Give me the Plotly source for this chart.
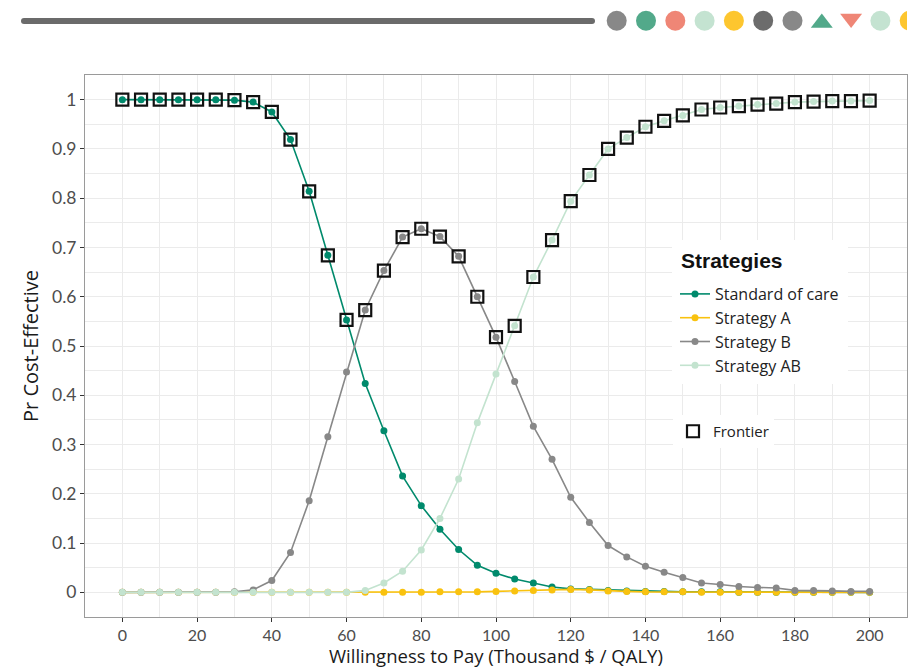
import numpy as np
import plotly.graph_objects as go

# Willingness-to-pay thresholds (thousand $ per QALY)
wtp = list(range(0, 201, 5))

# Probability each strategy is cost-effective at each threshold
soc = [1.000, 1.000, 1.000, 1.000, 1.000, 1.000, 0.999, 0.995, 0.975, 0.919,
       0.814, 0.684, 0.553, 0.424, 0.328, 0.236, 0.176, 0.128, 0.087, 0.055,
       0.039, 0.027, 0.019, 0.011, 0.007, 0.006, 0.004, 0.003, 0.002, 0.002,
       0.001, 0.001, 0.001, 0.000, 0.000, 0.000, 0.000, 0.000, 0.000, 0.000,
       0.000]
strat_a = [0.000, 0.000, 0.000, 0.000, 0.000, 0.000, 0.000, 0.000, 0.000, 0.000,
           0.000, 0.000, 0.000, 0.000, 0.000, 0.000, 0.000, 0.001, 0.001, 0.001,
           0.002, 0.003, 0.004, 0.005, 0.006, 0.005, 0.003, 0.002, 0.001, 0.001,
           0.001, 0.000, 0.000, 0.000, 0.000, 0.000, 0.000, 0.000, 0.000, 0.000,
           0.000]
strat_b = [0.000, 0.000, 0.000, 0.000, 0.000, 0.000, 0.001, 0.005, 0.024, 0.081,
           0.186, 0.316, 0.447, 0.573, 0.653, 0.721, 0.738, 0.722, 0.682, 0.600,
           0.518, 0.428, 0.337, 0.270, 0.193, 0.142, 0.095, 0.072, 0.053, 0.041,
           0.030, 0.019, 0.016, 0.012, 0.010, 0.009, 0.004, 0.004, 0.003, 0.002,
           0.002]
strat_ab = [0.000, 0.000, 0.000, 0.000, 0.000, 0.000, 0.000, 0.000, 0.000, 0.000,
            0.000, 0.000, 0.000, 0.004, 0.019, 0.043, 0.086, 0.150, 0.230, 0.344,
            0.443, 0.541, 0.640, 0.715, 0.794, 0.847, 0.900, 0.923, 0.945, 0.957,
            0.968, 0.980, 0.984, 0.987, 0.990, 0.992, 0.995, 0.996, 0.997, 0.997,
            0.998]

strategy_names = ["Standard of care", "Strategy A", "Strategy B", "Strategy AB"]
strategy_colors = ["#008a6c", "#f9c20f", "#888888", "#c3e3cf"]
series = [soc, strat_a, strat_b, strat_ab]

# Frontier: the strategy with highest probability at each threshold
stack = np.array(series)
frontier = stack.max(axis=0)

# Header decoration palette
deco_colors = ["#888888", "#52a98a", "#ef8676", "#c4e3d1", "#fdc62f", "#6c6c6c",
               "#888888", "#52a98a", "#ef8676", "#c4e3d1", "#fdc62f"]
deco_symbols = ["circle"] * 7 + ["triangle-up", "triangle-down", "circle", "circle"]

FONT = "Lato"
TEXT_FONT = "Open Sans"
W, H = 916, 669
ML, MR, MT, MB = 10, 9, 5, 52
PW, PH = W - ML - MR, H - MT - MB


def px_x(p):
    return (p - ML) / PW


def px_y(p):
    return (H - MB - p) / PH


fig = go.Figure()

for name, color, vals in zip(strategy_names, strategy_colors, series):
    fig.add_trace(go.Scatter(
        x=wtp, y=vals, name=name, mode="lines+markers",
        line=dict(color=color, width=1.6),
        marker=dict(color=color, size=7),
        legend="legend",
    ))

fig.add_trace(go.Scatter(
    x=wtp, y=frontier, name="Frontier", mode="markers",
    marker=dict(symbol="square-open", size=12, color="#111111",
                line=dict(width=2.2, color="#111111")),
    legend="legend2",
))

# Header bar and shapes (drawn in pixel units on a hidden axis pair)
fig.add_trace(go.Scatter(
    x=[24, 592], y=[21, 21], mode="lines+markers",
    line=dict(color="#6b6b6b", width=6),
    marker=dict(color="#6b6b6b", size=6, opacity=1),
    xaxis="x2", yaxis="y2", showlegend=False, hoverinfo="skip",
))
deco_x = [616.7 + 29.3 * i for i in range(len(deco_colors))]
deco_y = [20.7 if s == "circle" else (23.0 if s == "triangle-up" else 18.5) for s in deco_symbols]
deco_size = [20 if s == "circle" else 19 for s in deco_symbols]
fig.add_trace(go.Scatter(
    x=deco_x, y=deco_y, mode="markers",
    marker=dict(color=deco_colors, symbol=deco_symbols, size=deco_size,
                opacity=1, line=dict(width=0)),
    xaxis="x2", yaxis="y2", showlegend=False, hoverinfo="skip",
))

grid = "#ebebeb"
fig.update_layout(
    width=W, height=H,
    margin=dict(l=ML, r=MR, t=MT, b=MB),
    plot_bgcolor="white", paper_bgcolor="white",
    font=dict(family=FONT, color="#4d4d4d"),
    xaxis=dict(
        domain=[px_x(85), 1.0], automargin=False,
        range=[-10, 210], tick0=0, dtick=20,
        showgrid=True, gridcolor=grid, gridwidth=1.2,
        minor=dict(dtick=10, showgrid=True, gridcolor=grid, gridwidth=1),
        ticks="outside", ticklen=4, tickcolor="#333333", tickwidth=1,
        tickfont=dict(size=16, color="#4d4d4d"),
        showline=True, linecolor="#9a9a9a", linewidth=1, mirror=True,
        zeroline=False,
    ),
    yaxis=dict(
        domain=[0, px_y(75)], automargin=False,
        range=[-0.05, 1.05], tick0=0, dtick=0.1,
        showgrid=True, gridcolor=grid, gridwidth=1.2,
        minor=dict(dtick=0.05, showgrid=True, gridcolor=grid, gridwidth=1),
        ticks="outside", ticklen=4, tickcolor="#333333", tickwidth=1,
        tickfont=dict(size=17.5, color="#4d4d4d"),
        showline=True, linecolor="#9a9a9a", linewidth=1, mirror=True,
        zeroline=False,
        title=dict(text="Pr Cost-Effective",
                   font=dict(family=TEXT_FONT, size=20, color="#1a1a1a"), standoff=8),
    ),
    xaxis2=dict(domain=[0, 1], range=[ML, W - MR], visible=False, anchor="y2", fixedrange=True),
    yaxis2=dict(domain=[1 - 50 / PH, 1], range=[MT + 50, MT], visible=False, anchor="x2",
                fixedrange=True),
    legend=dict(
        x=px_x(675), y=px_y(277), xanchor="left", yanchor="top",
        bgcolor="white", borderwidth=0,
        font=dict(family=TEXT_FONT, size=16, color="#222222"),
        tracegroupgap=0, itemwidth=30,
    ),
    legend2=dict(
        x=px_x(673), y=px_y(415), xanchor="left", yanchor="top",
        bgcolor="white", borderwidth=0,
        font=dict(family=TEXT_FONT, size=15, color="#222222"),
        itemwidth=30,
    ),
    showlegend=True,
    # white panel behind the strategy legend and its heading
    shapes=[dict(type="rect", xref="paper", yref="paper",
                 x0=px_x(672), x1=px_x(848), y0=px_y(384), y1=px_y(240),
                 fillcolor="white", line=dict(width=0), layer="above")],
    annotations=[
        dict(text="<b>Strategies</b>", xref="paper", yref="paper",
             x=px_x(679), y=px_y(260), xanchor="left", yanchor="middle",
             showarrow=False,
             font=dict(family="Liberation Sans, Arial", size=21, color="#111111")),
        # x-axis title, centred under the panel
        dict(text="Willingness to Pay (Thousand $ / QALY)", xref="paper", yref="paper",
             x=px_x((85 + 907) / 2), y=px_y(655.5), xanchor="center", yanchor="middle",
             showarrow=False, borderpad=0,
             font=dict(family=TEXT_FONT, size=18.5, color="#1a1a1a")),
    ],
)

fig.write_html("out.html")
